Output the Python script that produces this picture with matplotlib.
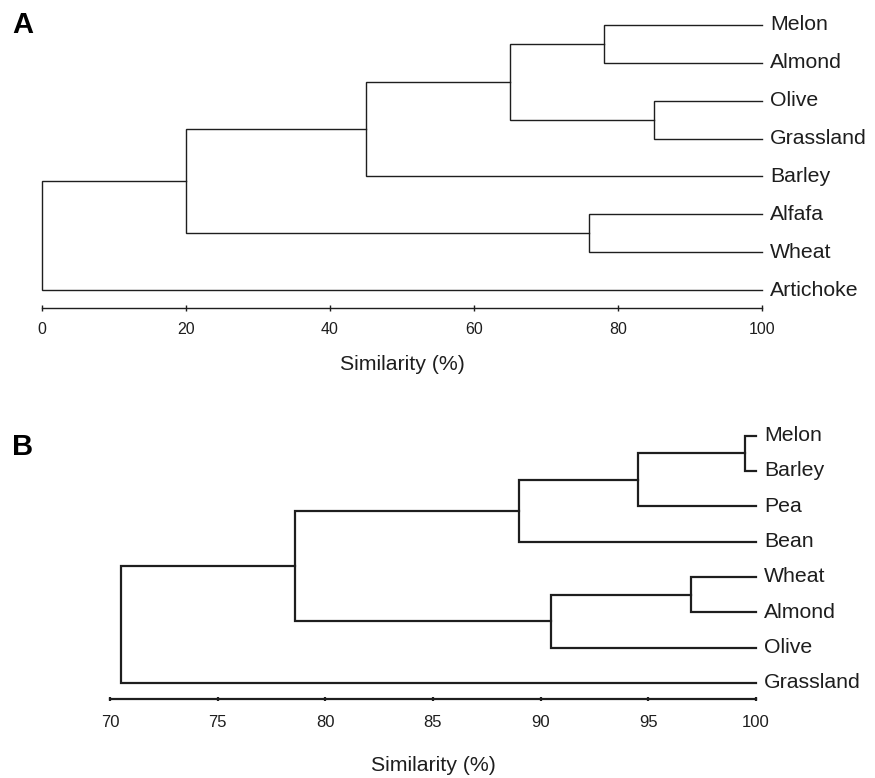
import matplotlib
matplotlib.use("Agg")
import matplotlib.pyplot as plt

plt.rcParams['font.family'] = ['Liberation Sans', 'DejaVu Sans']

# Panel A: leaf order (top to bottom) and merges (scipy-style indices, similarity %)
a_leaves = ["Melon", "Almond", "Olive", "Grassland", "Barley", "Alfafa", "Wheat", "Artichoke"]
a_merges = [(0, 1, 78), (2, 3, 85), (8, 9, 65), (10, 4, 45), (5, 6, 76), (11, 12, 20), (13, 7, 0)]
a_ticks = [0, 20, 40, 60, 80, 100]

# Panel B
b_leaves = ["Melon", "Barley", "Pea", "Bean", "Wheat", "Almond", "Olive", "Grassland"]
b_merges = [(0, 1, 99.5), (8, 2, 94.5), (9, 3, 89.0), (4, 5, 97.0), (11, 6, 90.5),
            (10, 12, 78.6), (13, 7, 70.5)]
b_ticks = [70, 75, 80, 85, 90, 95, 100]

INK = "#1e1e1e"


def draw_dendrogram(ax, leaves, merges, leaf_x, lw):
    """Draw an elbow dendrogram, leaves on the right at leaf_x."""
    pos = {i: (leaf_x, float(i)) for i in range(len(leaves))}
    for k, (a, b, h) in enumerate(merges):
        xa, ya = pos[a]
        xb, yb = pos[b]
        ax.plot([xa, h, h, xb], [ya, ya, yb, yb], color=INK, lw=lw,
                solid_joinstyle='miter', clip_on=False)
        pos[len(leaves) + k] = (h, (ya + yb) / 2)
    for i, name in enumerate(leaves):
        ax.annotate(name, (leaf_x, i), xytext=(6, 0), textcoords='offset points',
                    ha='left', va='center', fontsize=15.3, color=INK,
                    annotation_clip=False)


def style_axis(ax, ticks, xlim, ybottom, lw, ticklen, tickfs, pad, labelpad):
    ax.set_xlim(*xlim)
    ax.set_ylim(ybottom, -0.5)
    for side in ("top", "right", "left"):
        ax.spines[side].set_visible(False)
    ax.spines["bottom"].set_linewidth(lw)
    ax.spines["bottom"].set_color(INK)
    ax.set_yticks([])
    ax.set_xticks(ticks)
    ax.tick_params(axis='x', direction='inout', length=ticklen, width=lw,
                   color=INK, labelsize=tickfs, labelcolor=INK, pad=pad)
    ax.set_xlabel("Similarity (%)", fontsize=15.3, color=INK, labelpad=labelpad)
    ax.patch.set_visible(False)


fig = plt.figure(figsize=(8.75, 7.78), dpi=100)

ax1 = fig.add_axes([42 / 875, 1 - 308 / 778, 720 / 875, 302 / 778])
draw_dendrogram(ax1, a_leaves, a_merges, 100, 1.0)
style_axis(ax1, a_ticks, (0, 100), 7.475, 1.0, 5, 11.5, 7.5, 13)

ax2 = fig.add_axes([110 / 875, 1 - 699 / 778, 646 / 875, 281 / 778])
draw_dendrogram(ax2, b_leaves, b_merges, 100, 1.6)
style_axis(ax2, b_ticks, (70, 100), 7.453, 1.6, 3, 12, 10, 18.5)

fig.text(12 / 875, 1 - 25 / 778, "A", fontsize=21, fontweight='bold', va='center', ha='left')
fig.text(12 / 875, 1 - 447 / 778, "B", fontsize=21, fontweight='bold', va='center', ha='left')

fig.savefig("out.png", dpi=100)
